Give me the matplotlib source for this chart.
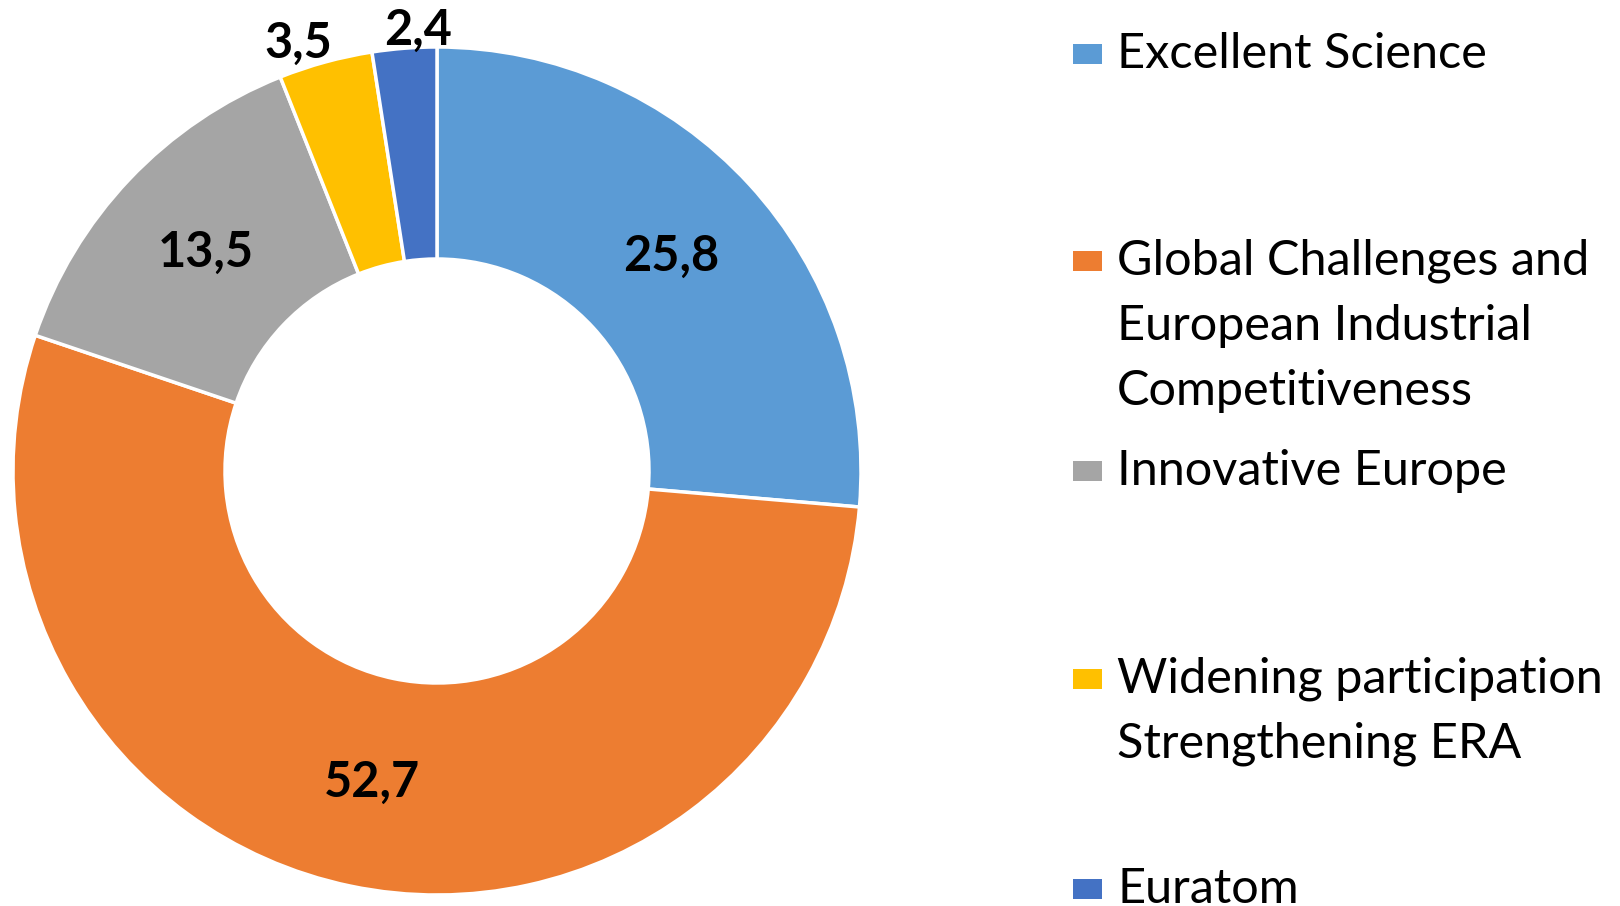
import matplotlib
matplotlib.use("Agg")
import numpy as np
import matplotlib.pyplot as plt
from matplotlib.patches import Rectangle

plt.rcParams['font.family'] = ['Lato', 'DejaVu Sans']

categories = ["Excellent Science",
              "Global Challenges and\nEuropean Industrial\nCompetitiveness",
              "Innovative Europe",
              "Widening participation\nStrengthening ERA",
              "Euratom"]
values = [25.8, 52.7, 13.5, 3.5, 2.4]
colors = ["#5B9BD5", "#ED7D31", "#A5A5A5", "#FFC000", "#4472C4"]

# label radius (fraction of outer radius), angle nudge (deg),
# and legend row centres (figure px from top)
label_r = [0.75, 0.75, 0.75, 1.06, 1.04]
label_nudge = [0, 0, 0, 2.7, -1.9]
legend_y = [54, 261, 471, 679, 889]
line_step = 65

W, H = 1620, 906
fig = plt.figure(figsize=(W / 100, H / 100), dpi=100)

cx, cy, R = 437, 471, 424
ax = fig.add_axes([(cx - R) / W, (H - cy - R) / H, 2 * R / W, 2 * R / H])
wedges, _ = ax.pie(values, colors=colors, startangle=90, counterclock=False,
                   radius=1, wedgeprops=dict(width=0.5, edgecolor='white', linewidth=2.5))
ax.set_xlim(-1, 1)
ax.set_ylim(-1, 1)
ax.set_aspect('equal')
ax.axis('off')

for w, v, r, d in zip(wedges, values, label_r, label_nudge):
    ang = np.deg2rad((w.theta1 + w.theta2) / 2 + d)
    ax.text(r * np.cos(ang), r * np.sin(ang), ("%.1f" % v).replace('.', ','),
            ha='center', va='center', fontsize=35, fontweight='bold', color='black')

# legend drawn by hand to follow the uneven spacing
for name, c, y0 in zip(categories, colors, legend_y):
    yc = 1 - y0 / H
    fig.patches.append(Rectangle((1073 / W, yc - 10 / H), 29 / W, 20 / H,
                                 transform=fig.transFigure, facecolor=c, edgecolor='none'))
    for i, line in enumerate(name.split('\n')):
        fig.text(1117 / W, 1 - (y0 + i * line_step) / H, line, ha='left', va='center',
                 fontsize=35)

fig.savefig("out.png", dpi=100)
